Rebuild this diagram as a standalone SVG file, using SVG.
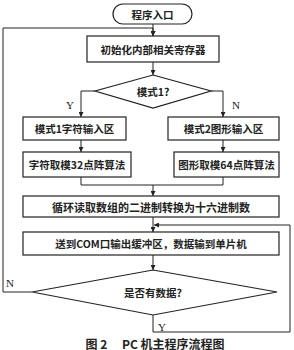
<svg xmlns="http://www.w3.org/2000/svg" width="294" height="350" viewBox="0 0 294 350">
<style>
.box{fill:#fff;stroke:#222;stroke-width:1.2}
.ln{fill:none;stroke:#222;stroke-width:1}
.t{font-family:"Noto Sans CJK SC","Noto Sans",sans-serif;font-size:10.5px;font-weight:bold;fill:#222;text-anchor:middle;dominant-baseline:central}
.lb{font-family:"Liberation Serif",serif;font-size:11px;fill:#222;text-anchor:middle;dominant-baseline:central}
</style>
<defs>
<marker id="a" viewBox="0 0 8 8" refX="8" refY="4" markerWidth="5" markerHeight="5" orient="auto">
<path d="M0,0 L8,4 L0,8 z" fill="#222"/>
</marker>
</defs>
<rect width="294" height="350" fill="#fff"/>
<g id="connectors">
<path class="ln" d="M153,24 V36" marker-end="url(#a)"/>
<path class="ln" d="M3,292 V28 H153"/>
<path class="ln" d="M153,28 V36" marker-end="url(#a)"/>
<path class="ln" d="M153,62 V75" marker-end="url(#a)"/>
<path class="ln" d="M95,91 H81 V117" marker-end="url(#a)"/>
<path class="ln" d="M211,91 H223 V117" marker-end="url(#a)"/>
<path class="ln" d="M81,140 V152" marker-end="url(#a)"/>
<path class="ln" d="M223,140 V152" marker-end="url(#a)"/>
<path class="ln" d="M81,177 V185 H223 V177"/>
<path class="ln" d="M153,185 V196" marker-end="url(#a)"/>
<path class="ln" d="M153,217 V232" marker-end="url(#a)"/>
<path class="ln" d="M153,255 V270" marker-end="url(#a)"/>
<path class="ln" d="M32,292 H3"/>
<path class="ln" d="M153,315 V332 H290 V225 H154" marker-end="url(#a)"/>
<text class="lb" x="70" y="105">Y</text>
<text class="lb" x="236" y="105">N</text>
<text class="lb" x="10" y="283">N</text>
<text class="lb" x="162" y="327">Y</text>
</g>
<g id="start">
<rect class="box" x="113" y="4" width="79" height="20" rx="10"/>
<text class="t" x="152.5" y="14">程序入口</text>
</g>
<g id="init">
<rect class="box" x="87" y="36" width="132" height="26"/>
<text class="t" x="153" y="49">初始化内部相关寄存器</text>
</g>
<g id="mode1">
<polygon class="box" points="153,75 211,91 153,108 95,91"/>
<text class="t" x="153" y="91">模式1?</text>
</g>
<g id="m1input">
<rect class="box" x="23" y="117" width="103" height="23"/>
<text class="t" x="74.5" y="128.5">模式1字符输入区</text>
</g>
<g id="m2input">
<rect class="box" x="168" y="117" width="111" height="23"/>
<text class="t" x="223.5" y="128.5">模式2图形输入区</text>
</g>
<g id="m1alg">
<rect class="box" x="23" y="152" width="108" height="25"/>
<text class="t" x="77" y="164.5">字符取模32点阵算法</text>
</g>
<g id="m2alg">
<rect class="box" x="174" y="152" width="105" height="25"/>
<text class="t" x="226.5" y="164.5">图形取模64点阵算法</text>
</g>
<g id="convert">
<rect class="box" x="23" y="196" width="256" height="21"/>
<text class="t" x="151" y="206.5" style="font-size:11px">循环读取数组的二进制转换为十六进制数</text>
</g>
<g id="send">
<rect class="box" x="23" y="232" width="256" height="23"/>
<text class="t" x="151" y="243.5">送到COM口输出缓冲区，数据输到单片机</text>
</g>
<g id="hasdata">
<polygon class="box" points="153,270 277,292 153,315 32,292"/>
<text class="t" x="153" y="292">是否有数据?</text>
</g>
<text class="t" x="155" y="343" style="font-size:12px" xml:space="preserve">图 2　 PC 机主程序流程图</text>
</svg>
